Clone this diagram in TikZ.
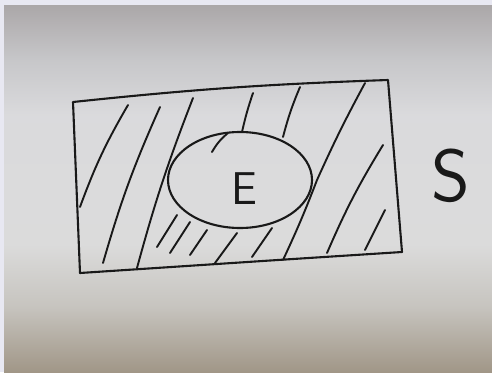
\documentclass[tikz,border=0pt]{standalone}
\usepackage{fontspec}
\usetikzlibrary{shapes.geometric}
\definecolor{frame}{RGB}{232,232,242}
\definecolor{ink}{RGB}{25,25,25}
\pgfdeclareverticalshading{paper}{100bp}{%
  rgb(0bp)=(0.63,0.59,0.53);
  rgb(25bp)=(0.63,0.59,0.53);
  rgb(34bp)=(0.78,0.77,0.75);
  rgb(42.5bp)=(0.86,0.86,0.86);
  rgb(60bp)=(0.855,0.855,0.865);
  rgb(67.5bp)=(0.78,0.78,0.79);
  rgb(75bp)=(0.67,0.655,0.66);
  rgb(100bp)=(0.67,0.655,0.66)}
\tikzset{
  pen/.style={draw=ink, line width=2.1pt, line cap=round, line join=round},
  hatch/.style={pen, line width=1.9pt},
  letter/.style={text=ink, font=\sffamily, inner sep=0pt}
}
\begin{document}
\begin{tikzpicture}[x=1pt,y=-1pt]
\useasboundingbox (0,0) rectangle (492,372);
\fill[frame] (0,0) rectangle (492,372);
\shade[shading=paper] (4,5) rectangle (492,372);
% rectangle (universe)
\draw[pen] (73,102) to[bend left=2] (388,80) -- (402,252) -- (293,259) -- (80,273) -- cycle;
% ellipse E
\node[ellipse, pen, minimum width=144pt, minimum height=96pt, inner sep=0pt] (el) at (240,180) {};
\node[letter, font=\sffamily\fontsize{46}{46}\selectfont] (e) at (244,189) {E};
\node[letter, font=\sffamily\fontsize{74}{74}\selectfont] (s) at (451,176) {S};
% hatching outside ellipse
\draw[hatch] (128,105) to[bend right=5] (80,207);
\draw[hatch] (160,107) to[bend right=4] (103,263);
\draw[hatch] (193,98) to[bend right=3] (137,268);
\draw[hatch] (253,93) to[bend right=3] (242,132);
\draw[hatch] (300,87) to[bend right=4] (283,137);
\draw[hatch] (365,83) to[bend right=2] (317,180) to[bend left=2] (283,260);
\draw[hatch] (383,145) to[bend right=4] (327,253);
\draw[hatch] (385,210) -- (365,250);
\draw[hatch] (228,133) to[bend right=10] (212,152);
% hatching in crescent
\draw[hatch] (177,215) -- (157,247);
\draw[hatch] (190,222) -- (170,253);
\draw[hatch] (207,230) -- (190,255);
\draw[hatch] (237,233) -- (215,263);
\draw[hatch] (272,228) -- (252,257);
\end{tikzpicture}
\end{document}
